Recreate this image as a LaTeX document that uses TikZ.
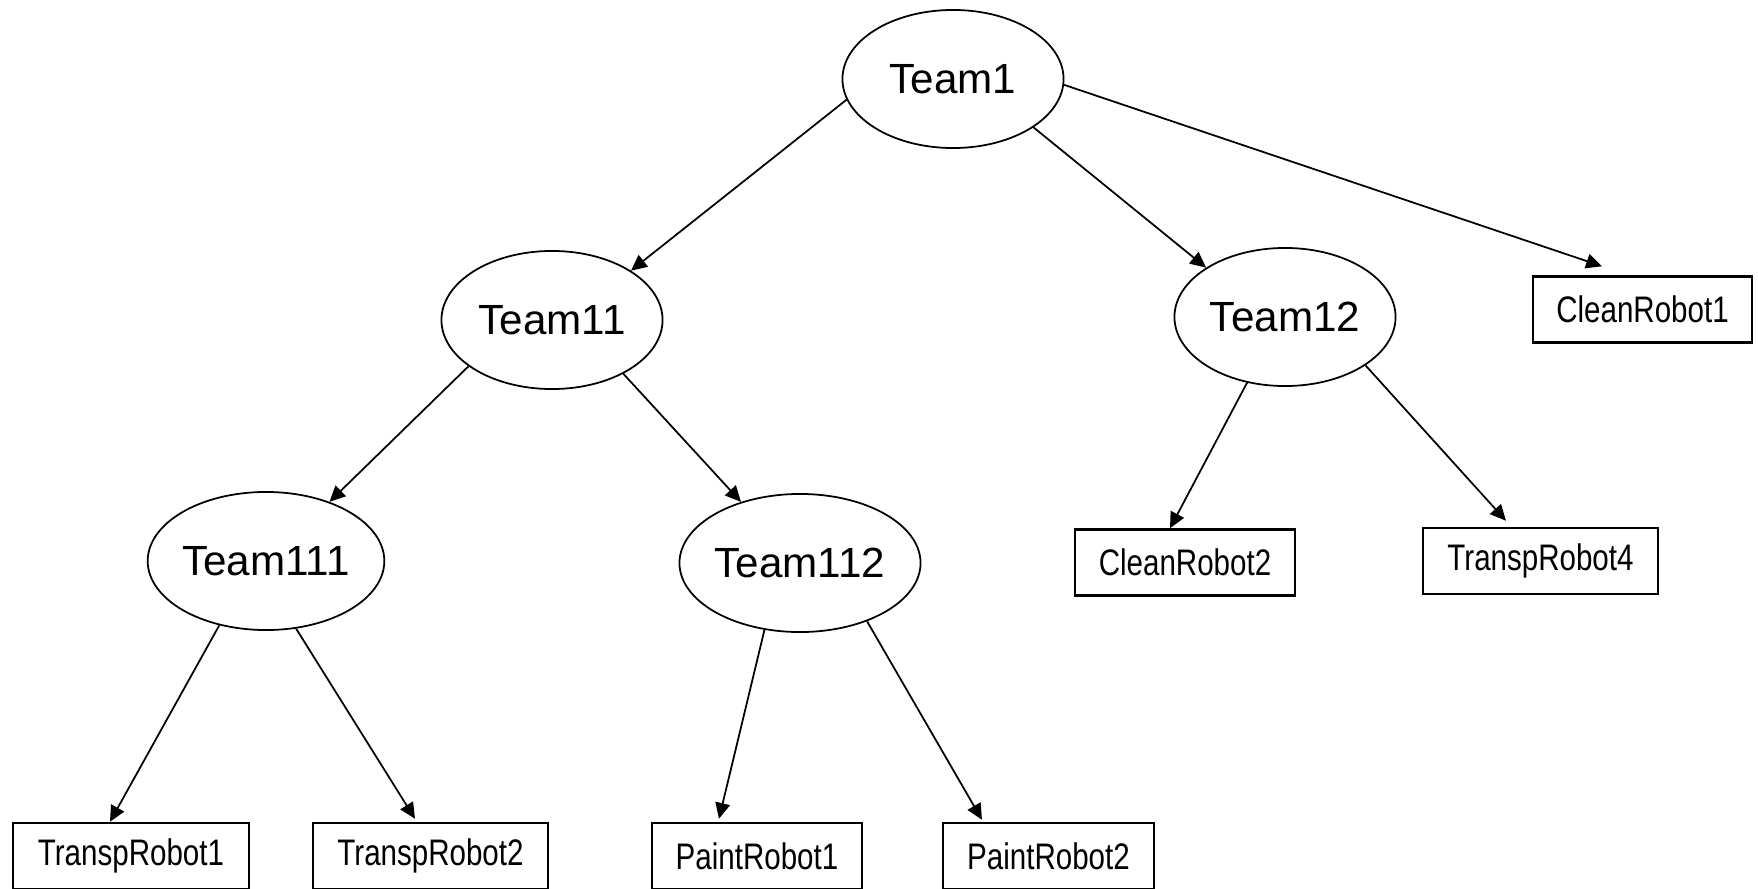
\documentclass[tikz,border=0pt]{standalone}
\usepackage{fontspec}
\setmainfont{Liberation Sans}
\newfontfamily\narrowfont[FakeStretch=0.8]{Liberation Sans}
\usetikzlibrary{arrows.meta,shapes.geometric}

\tikzset{
  team/.style={ellipse, draw, line width=0.5pt, inner sep=0pt,
    minimum width=2.21cm, minimum height=1.38cm,
    font=\fontsize{12}{14}\selectfont},
  robot/.style={rectangle, draw, line width=0.7pt, inner sep=0pt,
    minimum height=0.66cm, font=\narrowfont\fontsize{10.5}{12}\selectfont},
  link/.style={line width=0.5pt, -{Triangle[length=4.5pt,width=4.2pt]}}
}

\begin{document}
\begin{tikzpicture}[x=0.01cm, y=-0.01cm]
  \useasboundingbox (0,0) rectangle (1758,888);

  % teams
  \node[team] (t1)   at (953,79)  {Team1};
  \node[team] (t11)  at (552,320) {Team11};
  \node[team] (t12)  at (1285,317) {Team12};
  \node[team] (t111) at (266,561) {Team111};
  \node[team] (t112) at (800,563) {Team112};

  % robots
  \node[robot, minimum width=2.36cm] (tr1) at (131,856)    {TranspRobot1};
  \node[robot, minimum width=2.35cm] (tr2) at (430.5,856)  {TranspRobot2};
  \node[robot, minimum width=2.10cm] (pr1) at (757,856)    {PaintRobot1};
  \node[robot, minimum width=2.11cm] (pr2) at (1048.5,856) {PaintRobot2};
  \node[robot, minimum width=2.20cm] (cr2) at (1185,562.5) {CleanRobot2};
  \node[robot, minimum width=2.35cm] (tr4) at (1540.5,561) {TranspRobot4};
  \node[robot, minimum width=2.19cm] (cr1) at (1642.5,309.5) {CleanRobot1};

  % hierarchy links
  \draw[link] (t1.191) -- (t11.32.5);
  \draw[link] (t1.329) -- (t12.148);
  \draw[link] (t1.357) -- ([xshift=-0.405cm, yshift=0.09cm]cr1.north);

  \draw[link] (t11.209) -- (t111.43.6);
  \draw[link] (t11.323) -- (t112.134.5);

  \draw[link] (t12.240) -- ([xshift=-0.15cm]cr2.north);
  \draw[link] (t12.329) -- ([xshift=-0.345cm, yshift=0.06cm]tr4.north);

  \draw[link] (t111.234) -- ([xshift=-0.21cm]tr1.north);
  \draw[link] (t111.294) -- ([xshift=-0.155cm, yshift=0.03cm]tr2.north);

  \draw[link] (t112.242) -- ([xshift=-0.38cm, yshift=0.03cm]pr1.north);
  \draw[link] (t112.319) -- ([xshift=-0.665cm, yshift=0.02cm]pr2.north);
\end{tikzpicture}
\end{document}
